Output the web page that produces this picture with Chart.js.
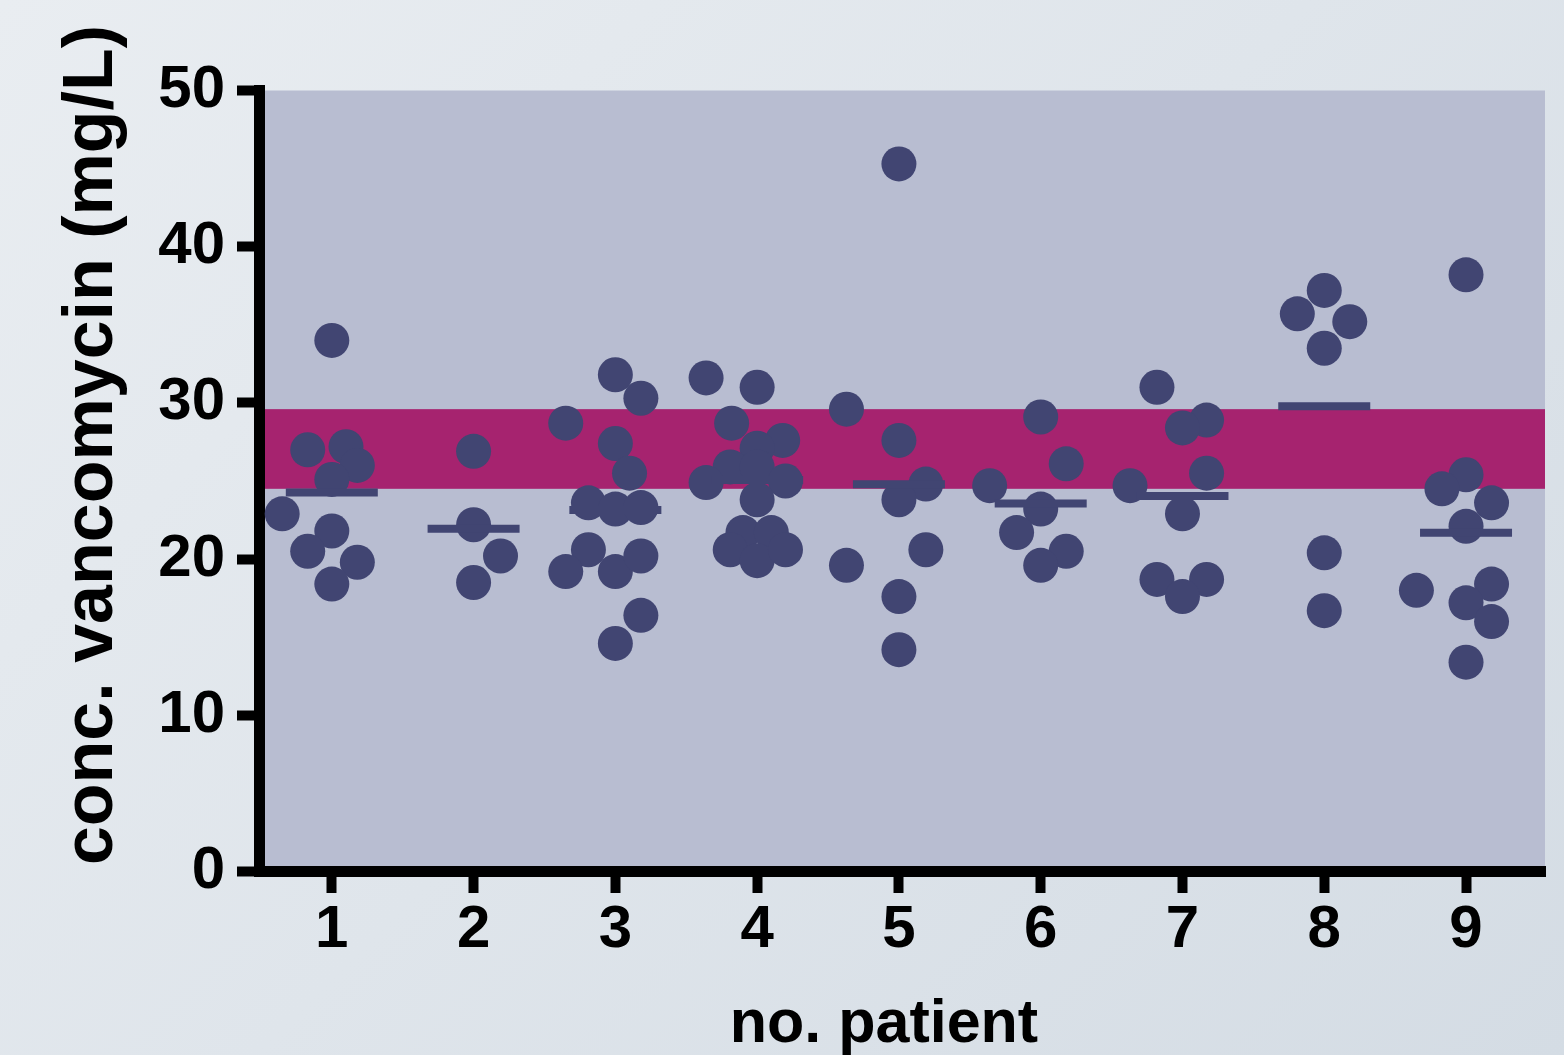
<!DOCTYPE html>
<html>
<head>
<meta charset="utf-8">
<script src="https://cdn.jsdelivr.net/npm/chart.js@4.4.1/dist/chart.umd.min.js"></script>
<style>
html, body { margin: 0; padding: 0; overflow: hidden; }
body {
    width: 1564px; height: 1055px;
    background: linear-gradient(135deg, #e9edf1 0%, #dfe5eb 50%, #d4dce4 100%);
}
canvas { display: block; }
</style>
</head>
<body>
<canvas id="vanco-chart" width="1564" height="1055"></canvas>
<script>
// patient numbers and tick labels
var patientNo = [1, 2, 3, 4, 5, 6, 7, 8, 9];
var yTicks = [0, 10, 20, 30, 40, 50];
var targetRange = [24.5, 29.6];   // mg/L, the pink band

// measured concentrations per patient (mg/L)
var conc1 = [34.0, 27.0, 27.2, 26.0, 25.1, 22.9, 21.8, 20.5, 19.8, 18.4];
var conc2 = [26.9, 22.2, 20.2, 18.5];
var conc3 = [31.8, 30.3, 28.7, 27.4, 25.5, 23.6, 23.2, 23.3, 20.6, 19.2, 19.2, 20.2, 16.4, 14.6];
var conc4 = [31.6, 31.0, 28.7, 27.6, 27.1, 25.9, 25.9, 24.9, 25.0, 23.8, 21.7, 21.7, 20.6, 19.9, 20.6];
var conc5 = [45.3, 29.6, 27.6, 24.8, 23.8, 19.6, 20.6, 17.6, 14.2];
var conc6 = [29.1, 26.1, 24.7, 23.2, 21.7, 20.5, 19.6];
var conc7 = [31.0, 28.9, 28.4, 25.5, 24.7, 22.9, 18.7, 18.7, 17.6];
var conc8 = [37.2, 35.7, 35.2, 33.5, 20.4, 16.7];
var conc9 = [38.2, 25.4, 24.5, 23.6, 22.1, 18.0, 18.4, 17.2, 16.0, 13.4];

// horizontal scatter of each dot around its patient number
var jit1 = [0, -0.17, 0.1, 0.18, 0, -0.35, 0, -0.17, 0.18, 0];
var jit2 = [0, 0, 0.19, 0];
var jit3 = [0, 0.18, -0.35, 0, 0.1, -0.19, 0, 0.18, -0.19, -0.35, 0, 0.18, 0.18, 0];
var jit4 = [-0.36, 0, -0.18, 0.18, 0, -0.19, 0, -0.36, 0.2, 0, -0.1, 0.1, -0.19, 0, 0.2];
var jit5 = [0, -0.37, 0, 0.19, 0, -0.37, 0.19, 0, 0];
var jit6 = [0, 0.18, -0.36, 0, -0.17, 0.18, 0];
var jit7 = [-0.18, 0.17, 0, 0.17, -0.37, 0, -0.18, 0.17, 0];
var jit8 = [0, -0.19, 0.18, 0, 0, 0];
var jit9 = [0, 0, -0.17, 0.18, 0, -0.35, 0.18, 0, 0.18, 0];

var concs = [conc1, conc2, conc3, conc4, conc5, conc6, conc7, conc8, conc9];
var jits = [jit1, jit2, jit3, jit4, jit5, jit6, jit7, jit8, jit9];

var dots = [];
var means = [];
for (var i = 0; i < patientNo.length; i++) {
    var sum = 0;
    for (var j = 0; j < concs[i].length; j++) {
        dots.push({x: patientNo[i] + jits[i][j], y: concs[i][j]});
        sum += concs[i][j];
    }
    means.push({x: patientNo[i], y: sum / concs[i].length});
}

var navy = '#414572';
var tickFont = {family: "'Liberation Sans', Arial, sans-serif", size: 60, weight: 'bold'};

var plotBackground = {
    id: 'plotBackground',
    beforeDraw: function (chart) {
        var ctx = chart.ctx, a = chart.chartArea, y = chart.scales.y;
        ctx.save();
        ctx.fillStyle = '#b8bdd1';
        ctx.fillRect(a.left, a.top, a.right - a.left, a.bottom - a.top);
        var top = y.getPixelForValue(targetRange[1]);
        var bottom = y.getPixelForValue(targetRange[0]);
        ctx.fillStyle = '#a6236f';
        ctx.fillRect(a.left, top, a.right - a.left, bottom - top);
        ctx.restore();
    }
};

// axis titles, placed like the original figure
var axisTitles = {
    id: 'axisTitles',
    afterDraw: function (chart) {
        var ctx = chart.ctx;
        ctx.save();
        ctx.fillStyle = '#000';
        ctx.textAlign = 'center';
        ctx.textBaseline = 'alphabetic';
        ctx.font = "bold 61px 'Liberation Sans', Arial, sans-serif";
        ctx.fillText('no. patient', 884, 1042);
        ctx.translate(112, 445);
        ctx.rotate(-Math.PI / 2);
        ctx.font = "bold 70px 'Liberation Sans', Arial, sans-serif";
        ctx.fillText('conc. vancomycin (mg/L)', 0, 0);
        ctx.restore();
    }
};

function noSidePadding(s) {
    s.paddingLeft = 0;
    s.paddingRight = 0;
    s.paddingTop = 0;
    s.paddingBottom = 0;
}

var chart = new Chart(document.getElementById('vanco-chart'), {
    type: 'scatter',
    data: {
        datasets: [{
            label: 'mean',
            data: means,
            pointStyle: 'line',
            pointRadius: 46,
            pointBorderWidth: 8,
            borderColor: navy,
            backgroundColor: navy
        }, {
            label: 'vancomycin',
            data: dots,
            pointStyle: 'circle',
            pointRadius: 17.5,
            pointBorderWidth: 0,
            backgroundColor: navy,
            borderColor: navy
        }]
    },
    options: {
        responsive: false,
        animation: false,
        devicePixelRatio: 1,
        layout: {autoPadding: false, padding: {top: 90.5, right: 19, left: 0, bottom: 0}},
        plugins: {legend: {display: false}, tooltip: {enabled: false}},
        scales: {
            x: {
                type: 'linear',
                min: 0.49,
                max: 9.557,
                afterBuildTicks: function (s) {
                    s.ticks = patientNo.map(function (v) { return {value: v}; });
                },
                afterFit: function (s) { s.height = 183.5; noSidePadding(s); },
                ticks: {font: tickFont, color: '#000', padding: 1},
                grid: {drawOnChartArea: false, tickLength: 21.5, tickWidth: 10, tickColor: '#000'},
                border: {width: 11, color: '#000'}
            },
            y: {
                min: 0,
                max: 50,
                afterBuildTicks: function (s) {
                    s.ticks = yTicks.map(function (v) { return {value: v}; });
                },
                afterFit: function (s) { s.width = 259.5; noSidePadding(s); },
                ticks: {font: tickFont, color: '#000', padding: 12},
                grid: {drawOnChartArea: false, tickLength: 22.5, tickWidth: 10, tickColor: '#000'},
                border: {width: 11, color: '#000'}
            }
        }
    },
    plugins: [plotBackground, axisTitles]
});
</script>
</body>
</html>
